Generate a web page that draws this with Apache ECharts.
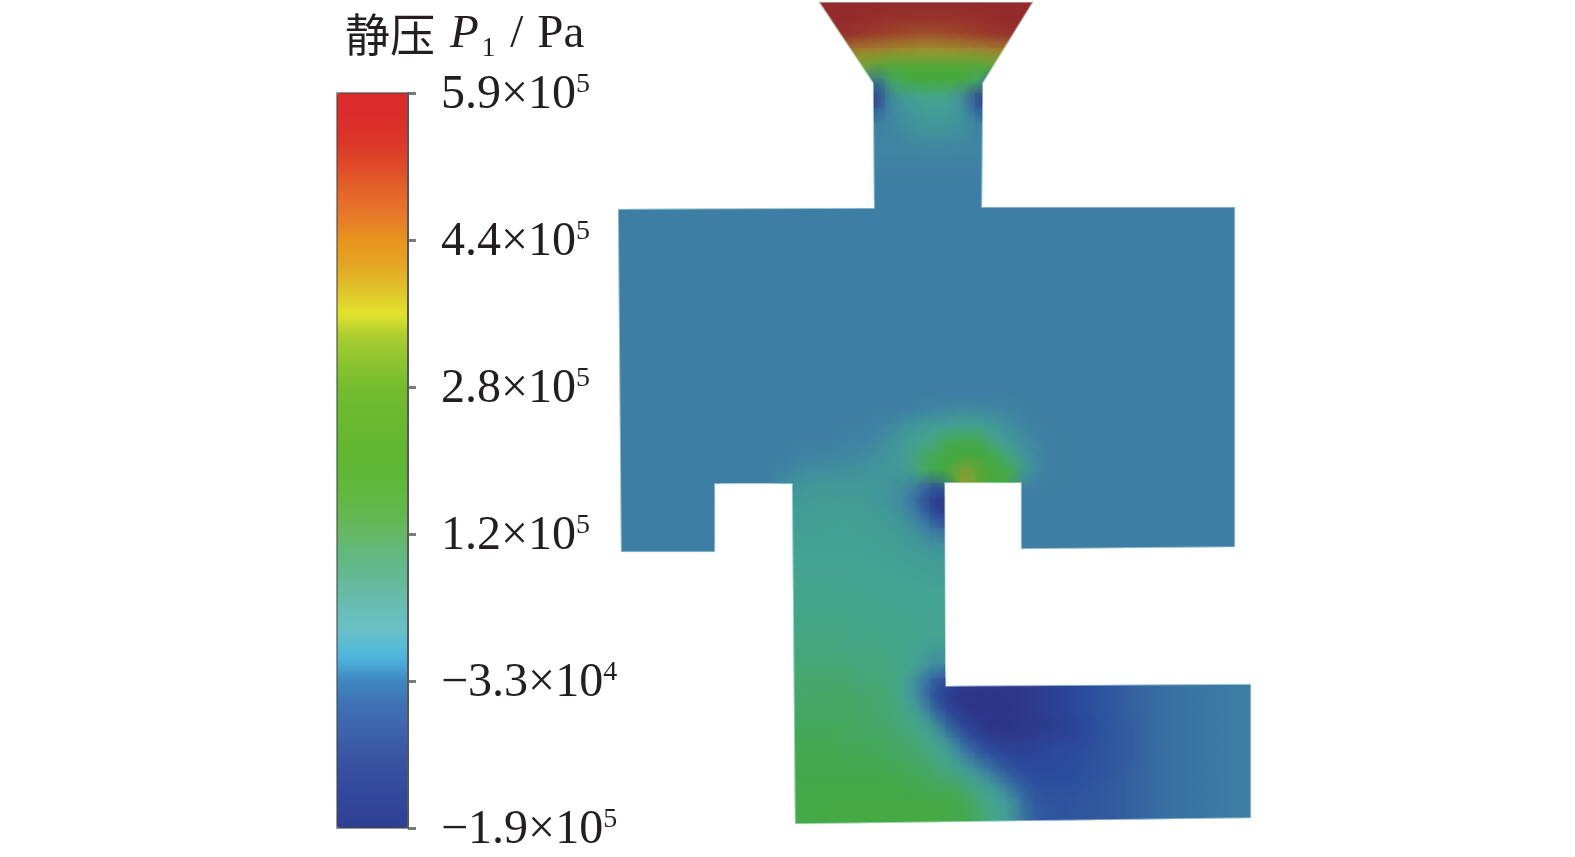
<!DOCTYPE html>
<html><head><meta charset="utf-8">
<style>html,body{margin:0;padding:0;background:#fff}#c{width:1575px;height:857px}</style>
<script src="https://cdn.jsdelivr.net/npm/echarts@6/dist/echarts.min.js"></script>
</head><body><div id="c"></div>
<script>
// Colour bar
const tickMantissas = ['−1.9×10','−3.3×10','1.2×10','2.8×10','4.4×10','5.9×10'];
const tickExponents = [5,4,5,5,5,5];
const pressureMin = -19, pressureMax = 59; // 10^4 Pa
const barColors = ['#2e3f92','#31469a','#354c9f','#3a56a5','#3d63ac','#3f70b4','#3f87c0','#4db7de','#69c0c8','#68bdb5','#65ba9a','#62b884','#66b866','#62b84a','#5fb73c','#5fb632','#64b72f','#6cba2f','#74bd2f','#8cc42f','#a8cc30','#e2e22e','#e0c22a','#e4a523','#e8941f','#e6782a','#e56429','#df4a28','#dc3629','#dc2c2a','#dd2a2a'];
const fieldColors = ['#2c3488','#2b4c9e','#34639f','#3f82a5','#419699','#44a493','#45a67c','#44a84f','#45aa38','#74a334','#9a9f30','#a08a2e','#a06a2c','#a04f2c','#9a3a2b','#932a2c'];

// Domain outline, in image units
const outline = [[819,2],[1033,2],[983,83],[982,207],[1235,207],[1235,547],[1021,549],[1021,483],[945,483],[946,686],[1251,684],[1251,818],[795,824],[792,484],[715,484],[715,552],[621,552],[618,209],[874,208],[873,83]];

// Static pressure, 10^4 Pa, one list per 15-unit row.
// Each row holds segments: [first column, value, value, ...]
const originX = 615, originY = -12, cell = 15;
const flat = [0,-4,-4,-4,-4,-4,-4,-4,-4,-4,-4,-4,-4,-4,-4,-4,-4,-4,-4,-4,-4,-4,-4,-4,-4,-4,-4,-4,-4,-4,-4,-4,-4,-4,-4,-4,-4,-4,-4,-4,-4,-4,-4];
const footL = [0,-4,-4,-4,-4,-4,-4,-4];
const footR = [27,-4,-4,-4,-4,-4,-4,-4,-4,-4,-4,-4,-4,-4,-4,-4];
const rightEdge = [29,-4,-4,-4,-4,-4,-4,-4,-4,-4,-4,-4,-4,-4];
const fieldRows = [
 [[13,59,59,59,59,59,59,59,59,59,59,59,59,59,59,59]],
 [[13,59,59,59,59,59,58,58,58,58,58,58,59,59,59,59,59]],
 [[14,59,58,58,57,56,55,55,55,55,56,57,58,58,59]],
 [[14,57,56,54,52,50,48,47,47,48,50,52,54,56,57]],
 [[14,40,40,38,37,36,35,34,34,34,35,36,37,38,40]],
 [[15,28,28,25,23,23,23,23,23,23,23,25,28]],
 [[16,8,-10,14,19,21,21,21,19,14,-10]],
 [[17,-19,0,4,7,8,7,-4,-19]],
 [[17,-9,-2,1,4,5,4,0,-10]],
 [[17,-3,-2,0,1,2,1,0,-3]],
 [[17,-3,-3,-2,-1,-1,-1,-2,-3]],
 [[17,-3,-3,-3,-3,-3,-3,-3,-3]],
 [[17,-4,-4,-4,-4,-4,-4,-4,-4]],
 [[17,-4,-4,-4,-4,-4,-4,-4,-4]],
 [flat],[flat],[flat],[flat],[flat],[flat],[flat],[flat],[flat],[flat],[flat],[flat],[flat],[flat],
 [[0,-4,-4,-4,-4,-4,-4,-4,-4,-4,-4,-4,-4,-4,-4,-4,-4,-4,-4,-4,-4],[20,-3,-2,-1,0,-1,-2,-3],[27,-4,-4,-4,-4,-4,-4,-4,-4,-4,-4,-4,-4,-4,-4,-4]],
 [[0,-4,-4,-4,-4,-4,-4,-4,-4,-4,-4,-4,-4,-4,-4,-4,-4,-4],[17,-3,-2,2,4,6,6,8,6,3,0,-3],[28,-4,-4,-4,-4,-4,-4,-4,-4,-4,-4,-4,-4,-4,-4]],
 [[0,-4,-4,-4,-4,-4,-4,-4,-4,-4,-4,-4,-4,-4,-4,-4],[15,-3,-3,-2,1,4,6,12,18,19,18,7,3,-1,-3],rightEdge],
 [[0,-4,-4,-4,-4,-4,-4,-4,-4,-4,-4,-4,-4],[12,-3,-3,-2,-2,-1,0,2,5,14,19,21,21,21,20,10,1,-3],rightEdge],
 [[0,-4,-4,-4,-4,-4,-4,-4,-4,-4,-4,-4],[11,-3,-1,0,0,1,1,2,2,2,14,19,21,34,24,21,20,3,-3],rightEdge],
 [footL,[11,1,2,3,3,3,3,2,1,-1,-6,-14],footR],
 [footL,[11,3,3,4,4,4,4,3,1,-3,-10,-19],footR],
 [footL,[11,4,4,5,5,5,5,4,3,0,-5,-14],footR],
 [footL,[11,5,5,5,6,6,5,5,4,3,0,-5],footR],
 [footL,[11,6,6,6,6,6,6,6,5,4,3,1],footR],
 [[11,7,7,7,7,7,7,6,6,5,5,4]],
 [[11,8,8,8,8,8,8,7,7,6,6,5]],
 [[11,9,9,9,8,8,8,8,7,7,7,7]],
 [[11,9,9,9,9,9,9,8,8,8,8,7]],
 [[11,10,10,10,10,10,9,9,9,8,8,8]],
 [[11,11,11,11,11,10,10,10,9,9,8,7]],
 [[11,12,12,12,12,11,11,11,10,9,6,2]],
 [[11,13,13,13,13,13,12,12,11,9,5,-3]],
 [[11,14,14,14,14,14,13,13,12,7,-4,-12,-15,-17,-18,-18,-18,-18,-17,-16,-15,-14,-12,-11,-9,-8,-7,-6,-6,-5,-5,-4,-4]],
 [[11,14,14,15,15,15,14,14,13,7,-3,-14,-18,-19,-19,-19,-19,-18,-17,-16,-15,-14,-12,-11,-9,-8,-7,-6,-6,-5,-5,-4,-4]],
 [[11,15,15,15,15,15,15,14,13,9,4,-8,-16,-18,-19,-19,-19,-18,-17,-16,-15,-14,-12,-11,-9,-8,-7,-6,-6,-5,-5,-4,-4]],
 [[11,16,16,16,16,16,15,15,14,12,9,2,-10,-16,-18,-19,-19,-18,-18,-17,-16,-15,-13,-11,-10,-8,-7,-6,-6,-5,-5,-4,-4]],
 [[11,17,17,17,17,16,16,16,15,14,12,7,0,-10,-15,-17,-17,-17,-16,-15,-15,-14,-12,-11,-10,-8,-7,-6,-6,-5,-5,-4,-4]],
 [[11,18,18,18,18,17,17,17,16,15,14,11,6,-3,-9,-13,-15,-15,-15,-14,-14,-13,-12,-11,-10,-8,-7,-6,-6,-5,-5,-4,-4]],
 [[11,18,18,18,18,18,18,18,17,17,16,14,11,5,0,-7,-12,-14,-14,-14,-14,-13,-12,-11,-9,-8,-7,-6,-6,-5,-5,-4,-4]],
 [[11,19,19,19,19,19,19,19,19,18,17,16,16,13,8,3,-6,-11,-13,-13,-13,-12,-11,-10,-9,-8,-7,-6,-6,-5,-5,-4,-4]],
 [[11,19,19,19,20,20,20,20,20,20,20,20,19,17,12,7,2,-8,-12,-12,-12,-11,-11,-10,-9,-8,-7,-6,-6,-5,-5,-4,-4]],
 [[11,19,19,19,20,20,20,20,20,20,20,20,19,18,14,9,3,-7,-11,-12,-12,-11,-11,-10,-9,-8,-7,-6,-6,-5,-5,-4,-4]]
];
const barFrame = [[0, 0], [1, 5]]; // colour-bar extent on its own axes

const cells = [];
fieldRows.forEach((row, j) => row.forEach(seg => {
  for (let k = 1; k < seg.length; k++) {
    cells.push([originX + (seg[0] + k - 1) * cell, originY + j * cell, seg[k]]);
  }
}));

function clipFor(api) {
  return { type: 'polygon', shape: { points: outline.map(p => api.coord(p)) } };
}
function renderBase(params, api) {
  const a = api.coord([api.value(0), api.value(1)]);
  const b = api.coord([api.value(0) + cell, api.value(1) + cell]);
  return { type: 'rect', shape: { x: a[0], y: a[1], width: b[0] - a[0], height: b[1] - a[1] },
    style: { fill: api.visual('color') }, clipPath: clipFor(api), silent: true };
}
function renderSoft(params, api) {
  const a = api.coord([api.value(0) - cell, api.value(1) - cell]);
  const b = api.coord([api.value(0) + 2 * cell, api.value(1) + 2 * cell]);
  const c = api.visual('color');
  const fade = echarts.color.modifyAlpha;
  return { type: 'rect', shape: { x: a[0], y: a[1], width: b[0] - a[0], height: b[1] - a[1] },
    style: { fill: { type: 'radial', x: .5, y: .5, r: .5, colorStops: [
      { offset: 0, color: fade(c, .62) }, { offset: .45, color: fade(c, .4) }, { offset: 1, color: fade(c, 0) }] } },
    clipPath: clipFor(api), silent: true };
}
function renderEdge(params, api) {
  return { type: 'polygon', shape: { points: outline.map(p => api.coord(p)) },
    style: { fill: 'none', stroke: 'rgba(225,245,242,0.55)', lineWidth: 1.6 }, silent: true };
}
function renderBarFrame(params, api) {
  const a = api.coord(barFrame[0]), b = api.coord(barFrame[1]);
  return { type: 'rect', shape: { x: a[0], y: b[1], width: b[0] - a[0], height: a[1] - b[1] },
    style: { fill: 'none', stroke: 'rgba(70,70,70,0.55)', lineWidth: 2 }, silent: true };
}

const chart = echarts.init(document.getElementById('c'), null, { renderer: 'canvas' });
const serif = '"Liberation Serif","Times New Roman",serif';
const ink = '#231f20';
chart.setOption({
  animation: false,
  backgroundColor: '#fff',
  title: {
    left: 340, top: 3,
    text: '{c|静压}{p|P}{s|1}{t|/}{u|Pa}',
    textStyle: { fontWeight: 'normal', rich: {
      c: { fontFamily: '"Noto Sans CJK SC"', fontWeight: 'normal', fontSize: 45, color: ink, lineHeight: 54, padding: [0, 15, 0, 0] },
      p: { fontFamily: serif, fontStyle: 'italic', fontWeight: 'normal', fontSize: 47, color: ink, lineHeight: 54 },
      s: { fontFamily: serif, fontWeight: 'normal', fontSize: 27, color: ink, lineHeight: 54, verticalAlign: 'bottom', padding: [0, 15, 0, 3] },
      t: { fontFamily: serif, fontWeight: 'normal', fontSize: 47, color: ink, lineHeight: 54, padding: [0, 14, 0, 0] },
      u: { fontFamily: serif, fontWeight: 'normal', fontSize: 47, color: ink, lineHeight: 54 }
    } }
  },
  grid: [
    { left: 0, top: 0, width: 1575, height: 857 },
    { left: 337, top: 93, width: 71, height: 735 }
  ],
  xAxis: [
    { type: 'value', min: 0, max: 1575, show: false, gridIndex: 0 },
    { type: 'value', min: 0, max: 1, show: false, gridIndex: 1 }
  ],
  yAxis: [
    { type: 'value', min: 0, max: 857, inverse: true, show: false, gridIndex: 0 },
    { type: 'category', gridIndex: 1, position: 'right', boundaryGap: false, z: 6,
      data: tickMantissas.map((m, i) => m + tickExponents[i]),
      axisLine: { show: true, onZero: false, lineStyle: { color: '#6e6e6e', width: 2 } },
      axisTick: { show: true, length: 8, lineStyle: { color: '#7a7a7a', width: 3 } },
      splitLine: { show: false },
      axisLabel: { show: true, interval: 0, margin: 33, align: 'left', padding: [5, 0, 0, 0],
        formatter: (v, i) => '{n|' + tickMantissas[i] + '}{e|' + tickExponents[i] + '}',
        rich: {
          n: { fontFamily: serif, fontSize: 48, color: ink, lineHeight: 50 },
          e: { fontFamily: serif, fontSize: 28, color: ink, lineHeight: 50, verticalAlign: 'top' }
        } } }
  ],
  visualMap: [
    { type: 'continuous', show: false, seriesIndex: [0, 1], dimension: 2, min: pressureMin, max: pressureMax,
      inRange: { color: fieldColors } },
    { type: 'continuous', show: true, seriesIndex: [2], dimension: 1, min: pressureMin, max: pressureMax,
      left: 337, top: 93, itemWidth: 71, itemHeight: 735, padding: 0, calculable: false, realtime: false,
      hoverLink: false, text: null, inRange: { color: barColors } }
  ],
  series: [
    { type: 'custom', coordinateSystem: 'cartesian2d', xAxisIndex: 0, yAxisIndex: 0, data: cells,
      encode: { x: 0, y: 1 }, renderItem: renderBase, silent: true },
    { type: 'custom', coordinateSystem: 'cartesian2d', xAxisIndex: 0, yAxisIndex: 0, data: cells,
      encode: { x: 0, y: 1 }, renderItem: renderSoft, silent: true },
    { type: 'line', xAxisIndex: 1, yAxisIndex: 1, data: [], silent: true },
    { type: 'custom', coordinateSystem: 'cartesian2d', xAxisIndex: 0, yAxisIndex: 0, data: [[0, 0]],
      encode: { x: 0, y: 1 }, renderItem: renderEdge, silent: true, z: 3 },
    { type: 'custom', coordinateSystem: 'cartesian2d', xAxisIndex: 1, yAxisIndex: 1, data: [[0, 0]],
      encode: { x: 0, y: 1 }, renderItem: renderBarFrame, silent: true, z: 7 }
  ]
});
</script></body></html>
